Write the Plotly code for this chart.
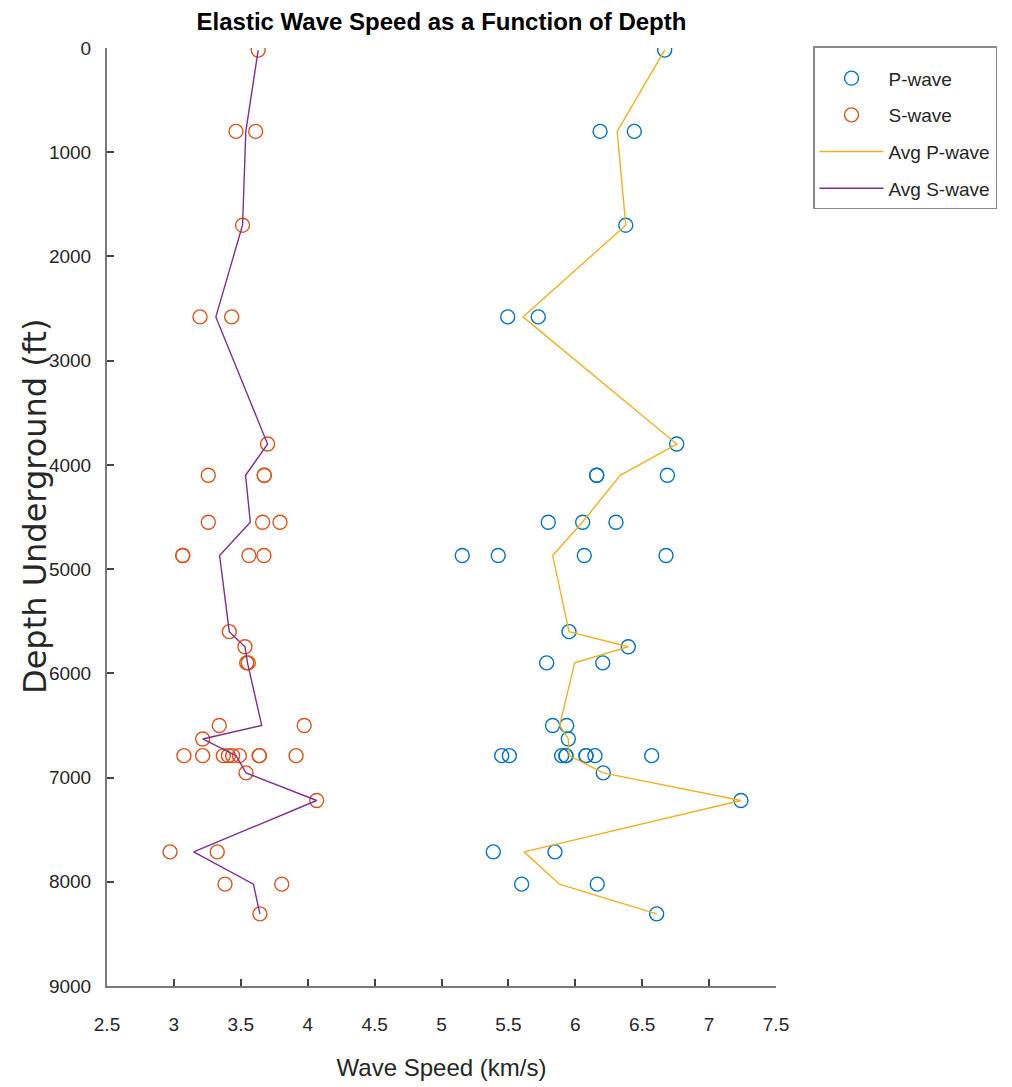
import plotly.graph_objects as go
import pandas as pd

# ---- data ----
s_depth = [20, 800, 800, 1700, 2580, 2580, 3800, 4100, 4100, 4100,
           4550, 4550, 4550, 4870, 4870, 4870, 4870, 5600, 5745, 5900, 5900,
           6500, 6500, 6630,
           6790, 6790, 6790, 6790, 6790, 6790, 6790, 6790, 6790,
           6955, 7220, 7713, 7713, 8023, 8023, 8308]
s_speed = [3.63, 3.464, 3.611, 3.513, 3.195, 3.432, 3.700, 3.257, 3.675, 3.675,
           3.257, 3.663, 3.793, 3.066, 3.066, 3.561, 3.673, 3.414, 3.531, 3.544, 3.556,
           3.339, 3.974, 3.215,
           3.075, 3.215, 3.369, 3.407, 3.439, 3.489, 3.638, 3.638, 3.913,
           3.539, 4.067, 2.971, 3.324, 3.382, 3.806, 3.643]

p_depth = [20, 800, 800, 1700, 2580, 2580, 3800, 4100, 4100, 4100,
           4550, 4550, 4550, 4870, 4870, 4870, 4870, 5600, 5745, 5900, 5900,
           6500, 6500, 6630,
           6790, 6790, 6790, 6790, 6790, 6790, 6790, 6790, 6790,
           6955, 7220, 7713, 7713, 8023, 8023, 8308]
p_speed = [6.668, 6.185, 6.441, 6.377, 5.495, 5.723, 6.758, 6.160, 6.160, 6.688,
           5.798, 6.055, 6.304, 5.155, 5.424, 6.067, 6.678, 5.953, 6.396, 5.786, 6.205,
           5.830, 5.936, 5.948,
           5.450, 5.507, 5.898, 5.930, 5.930, 6.080, 6.080, 6.147, 6.571,
           6.209, 7.238, 5.387, 5.848, 5.599, 6.164, 6.608]

x_ticks = [2.5, 3, 3.5, 4, 4.5, 5, 5.5, 6, 6.5, 7, 7.5]
y_ticks = [0, 1000, 2000, 3000, 4000, 5000, 6000, 7000, 8000, 9000]

# averages per depth
p_avg = pd.DataFrame({"d": p_depth, "v": p_speed}).groupby("d", sort=True)["v"].mean()
s_avg = pd.DataFrame({"d": s_depth, "v": s_speed}).groupby("d", sort=True)["v"].mean()

C_P = "#0072BD"
C_S = "#D95319"
C_AP = "#EDB120"
C_AS = "#7E2F8E"
AX = "#7a7a7a"
TXT = "#262626"
FONT = "Liberation Sans, Arial, sans-serif"

# page body has an 8px margin; figure is laid out relative to that
W, H = 1004, 1079
L, T, PW, PH = 99, 40, 669, 938

fig = go.Figure()
fig.add_trace(go.Scatter(x=p_speed, y=p_depth, mode="markers", name="P-wave",
                         legendgroup="a",
                         marker=dict(symbol="circle-open", size=14, color=C_P,
                                     line=dict(width=1.4, color=C_P))))
fig.add_trace(go.Scatter(x=s_speed, y=s_depth, mode="markers", name="S-wave",
                         legendgroup="b",
                         marker=dict(symbol="circle-open", size=14, color=C_S,
                                     line=dict(width=1.4, color=C_S))))
fig.add_trace(go.Scatter(x=p_avg.values, y=p_avg.index, mode="lines", name="Avg P-wave",
                         legendgroup="c",
                         line=dict(color=C_AP, width=1.4)))
fig.add_trace(go.Scatter(x=s_avg.values, y=s_avg.index, mode="lines", name="Avg S-wave",
                         legendgroup="d",
                         line=dict(color=C_AS, width=1.4)))

fig.update_layout(
    width=W, height=H,
    margin=dict(l=L, r=W - L - PW, t=T, b=H - T - PH, autoexpand=False),
    paper_bgcolor="white", plot_bgcolor="white",
    font=dict(family=FONT, color=TXT, size=19),
    title=dict(text="<b>Elastic Wave Speed as a Function of Depth</b>",
               x=(L + PW / 2) / W, xanchor="center",
               y=1 - 14 / H, yanchor="middle", yref="container",
               font=dict(family=FONT, size=24, color="#000000")),
    legend=dict(x=(805 - L) / PW, y=1.002, xanchor="left", yanchor="top",
                bordercolor="#8a8a8a", borderwidth=1.5, bgcolor="white",
                font=dict(family=FONT, size=19, color=TXT),
                title=dict(text=" ", font=dict(size=9)),
                tracegroupgap=9, itemwidth=64),
    showlegend=True,
    annotations=[dict(text="Depth Underground (ft)", textangle=-90,
                      xref="paper", yref="paper",
                      x=(27 - L) / PW, y=(PH + T - 498) / PH,
                      xanchor="center", yanchor="middle", showarrow=False,
                      font=dict(family="DejaVu Sans", size=32, color=TXT))],
)
fig.update_xaxes(
    range=[2.5, 7.5], tickvals=x_ticks, ticktext=[f"{v:g}" for v in x_ticks],
    showline=True, linecolor=AX, linewidth=2, mirror=False,
    ticks="inside", ticklen=7, tickwidth=1.5, tickcolor="#444444",
    showgrid=False, zeroline=False, automargin=False,
    tickfont=dict(family=FONT, size=19, color=TXT),
    ticklabelstandoff=20,
    title=dict(text="Wave Speed (km/s)", standoff=25,
               font=dict(family=FONT, size=24, color=TXT)),
)
fig.update_yaxes(
    range=[9000, 0], tickvals=y_ticks, ticktext=[str(v) for v in y_ticks],
    showline=True, linecolor=AX, linewidth=2, mirror=False,
    ticks="inside", ticklen=7, tickwidth=1.5, tickcolor="#444444",
    showgrid=False, zeroline=False, automargin=False,
    tickfont=dict(family=FONT, size=19, color=TXT),
    ticklabelstandoff=10,
)

fig.write_html("out.html")
